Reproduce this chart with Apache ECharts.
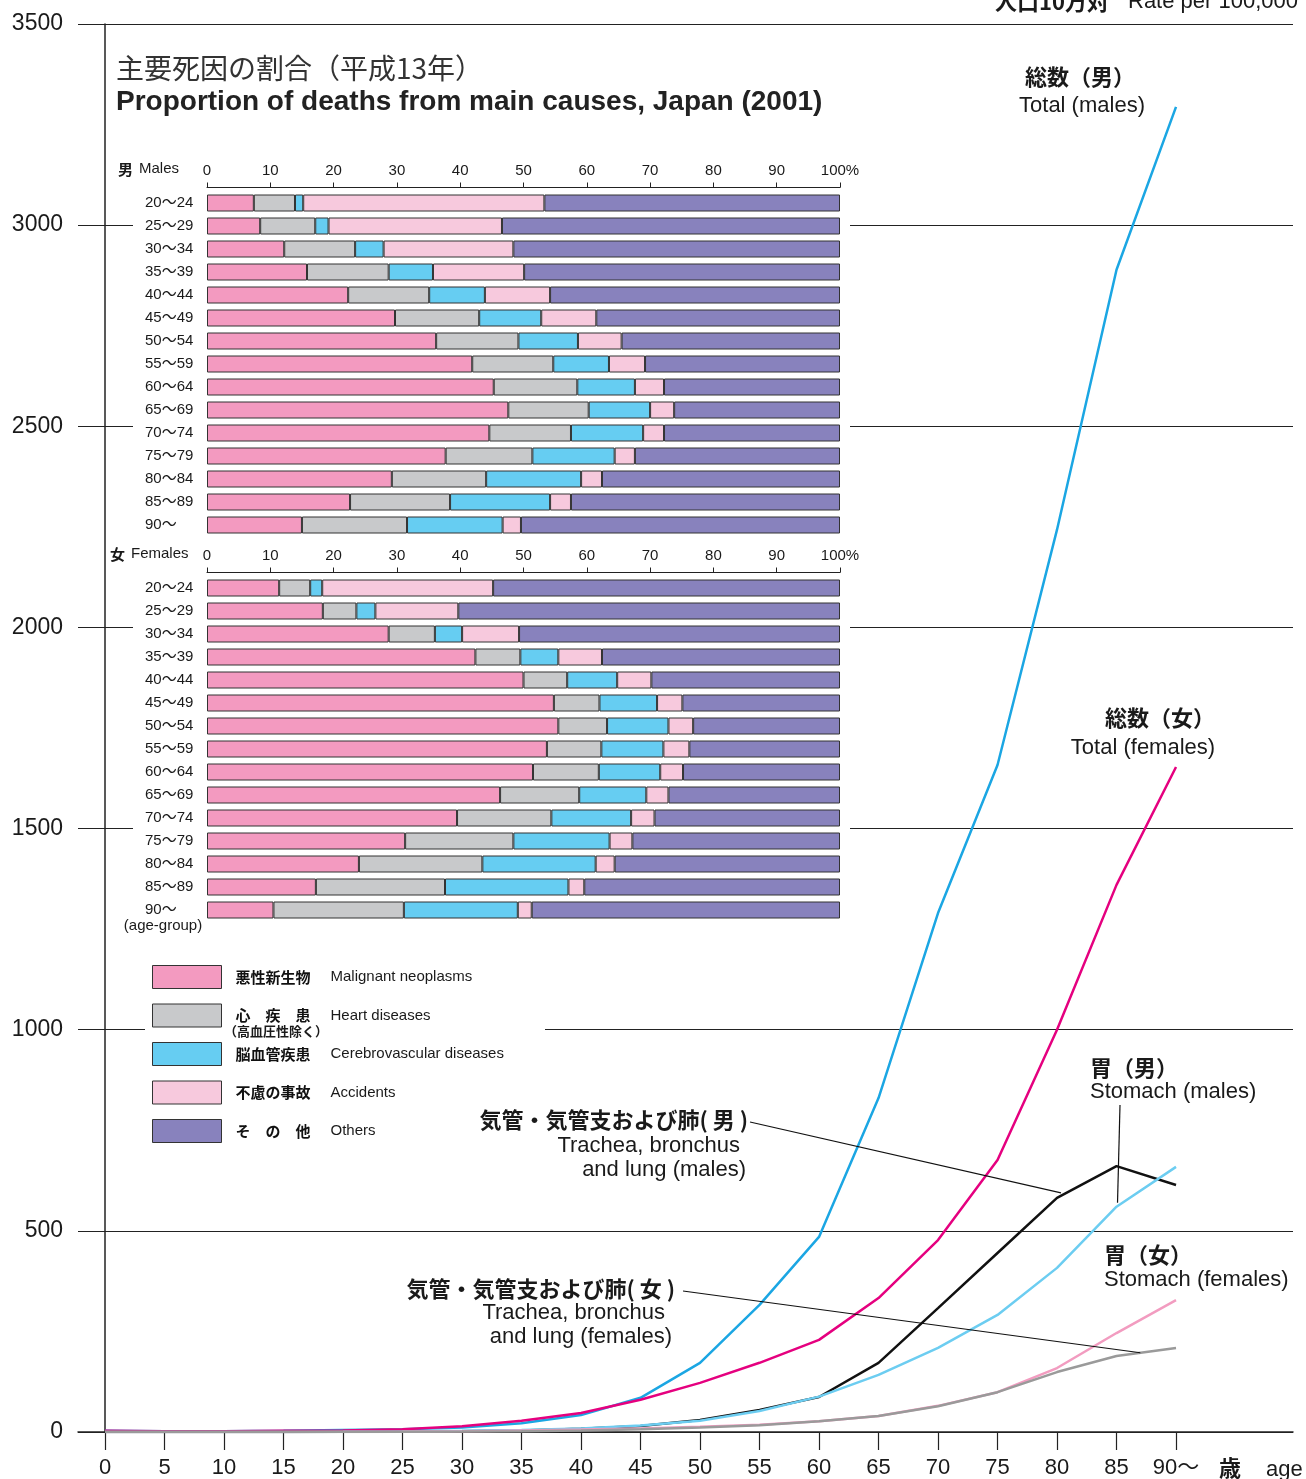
<!DOCTYPE html>
<html><head><meta charset="utf-8">
<script src="https://cdn.jsdelivr.net/npm/echarts@6/dist/echarts.min.js"></script>
<style>html,body{margin:0;padding:0;background:#fff}#c{width:1306px;height:1479px}</style>
</head><body><div id="c"></div>
<script>
// ---------- DATA ----------
const ages = [0,5,10,15,20,25,30,35,40,45,50,55,60,65,70,75,80,85,90];
const totalMales     = [3,2,2,3,5,7,11,22,42,85,172,316,485,830,1290,1658,2243,2889,3294];
const totalFemales   = [3,2,2,3,4,7,14,28,47,80,122,172,229,333,477,676,1000,1360,1653];
const lungMales      = [0,0,0,0,0.5,1,2,4,8,15,30,55,87,172,308,445,582,661,614];
const stomachMales   = [0,0,0,0,0.5,1.5,3,5,9,16,28,52,88,142,209,291,408,560,659];
const stomachFemales = [0,0,0,0,0.5,1,2,4,6,9,13,18,27,40,65,99,159,246,328];
const lungFemales    = [0,0,0,0,0.3,0.5,1,2,4,7,11,17,27,40,64,99,149,189,209];

const ageGroups = ['20～24','25～29','30～34','35～39','40～44','45～49','50～54','55～59','60～64','65～69','70～74','75～79','80～84','85～89','90～'];
const causeNames = ['Malignant neoplasms','Heart diseases','Cerebrovascular diseases','Accidents','Others'];
const causeNamesJp = ['悪性新生物','心　疾　患','脳血管疾患','不慮の事故','そ　の　他'];

const malesMalignant   = [7.4,8.4,12.2,15.8,22.3,29.7,36.2,41.9,45.3,47.6,44.6,37.7,29.2,22.6,15.0];
const malesHeart       = [6.5,8.7,11.2,12.9,12.8,13.3,13.0,12.8,13.2,12.7,12.9,13.7,14.9,15.8,16.6];
const malesCerebro     = [1.3,2.1,4.5,7.0,8.8,9.8,9.4,8.8,9.1,9.7,11.4,13.0,15.0,15.8,15.1];
const malesAccidents   = [38.1,27.4,20.5,14.4,10.3,8.7,6.9,5.7,4.6,3.8,3.3,3.2,3.3,3.3,2.9];
const malesOthers      = [46.7,53.4,51.6,49.9,45.8,38.5,34.5,30.8,27.8,26.2,27.8,32.4,37.6,42.5,50.4];

const femalesMalignant = [11.4,18.3,28.7,42.4,50.0,54.8,55.5,53.7,51.5,46.3,39.5,31.3,24.0,17.2,10.5];
const femalesHeart     = [4.9,5.3,7.3,7.1,6.9,7.2,7.7,8.6,10.4,12.5,14.9,17.1,19.5,20.4,20.6];
const femalesCerebro   = [1.9,3.0,4.3,6.0,7.9,9.1,9.7,9.8,9.7,10.6,12.6,15.2,17.9,19.5,18.0];
const femalesAccidents = [27.0,13.1,9.0,6.9,5.4,4.0,3.9,4.1,3.6,3.5,3.7,3.6,3.0,2.5,2.2];
const femalesOthers    = [54.8,60.3,50.7,37.6,29.8,24.9,23.2,23.8,24.8,27.1,29.3,32.8,35.6,40.4,48.7];

// ---------- STYLE ----------
const FONT = '"Liberation Sans", Arial, "Noto Sans CJK JP", sans-serif';
const JP = '"Noto Sans CJK JP", "Liberation Sans", sans-serif';
const causeColors = ['#f39ac0','#c8c9cb','#66cdf2','#f7c9dd','#8882bd'];
const TXT = '#1a1a1a';

const chart = echarts.init(document.getElementById('c'), null, {renderer:'canvas'});

const malesSets = [malesMalignant, malesHeart, malesCerebro, malesAccidents, malesOthers];
const femalesSets = [femalesMalignant, femalesHeart, femalesCerebro, femalesAccidents, femalesOthers];

function barSeries(sets, axisIdx, stack){
  return sets.map((d,i)=>({
    type:'bar', name: causeNames[i], stack: stack,
    xAxisIndex: axisIdx, yAxisIndex: axisIdx,
    data: d, barWidth: 17, z: 4,
    itemStyle:{color: causeColors[i], borderColor:'#333', borderWidth:1},
    emphasis:{disabled:true}
  }));
}
function lineSeries(name, d, color, w){
  return {type:'line', name, xAxisIndex:0, yAxisIndex:0, symbol:'none', z:3,
    data: ages.map((a,i)=>[a, d[i]]), lineStyle:{color, width:w}, itemStyle:{color},
    emphasis:{disabled:true}};
}
function pctAxis(grid){
  return {type:'value', gridIndex:grid, min:0, max:100, interval:10, position:'top', offset:4, z:5,
    axisLine:{show:true, lineStyle:{color:'#222', width:1}},
    axisTick:{show:true, length:5, lineStyle:{color:'#222', width:1}},
    axisLabel:{fontFamily:FONT, fontSize:15, color:TXT, margin:9, formatter:v=> v===100?'100%':String(v)},
    splitLine:{show:false}};
}
function catAxis(grid){
  return {type:'category', gridIndex:grid, data:ageGroups, inverse:true, z:5,
    axisLine:{show:false}, axisTick:{show:false},
    axisLabel:{fontFamily:FONT, fontSize:15, color:TXT, align:'left', margin:62}};
}

const option = {
  animation:false,
  backgroundColor:'#fff',
  grid:[
    {left:78, right:13, top:24, bottom:47, outerBoundsMode:'none', containLabel:false},
    {left:207, width:633, top:191.5, height:345, outerBoundsMode:'none', containLabel:false},
    {left:207, width:633, top:576.5, height:345, outerBoundsMode:'none', containLabel:false}
  ],
  xAxis:[
    {type:'value', gridIndex:0, min:-2.269, max:99.83,
     axisLine:{show:true, onZero:false, lineStyle:{color:'#222', width:1.5}},
     axisTick:{show:true, customValues:ages, length:18, lineStyle:{color:'#222', width:1.2}},
     axisLabel:{customValues:ages, fontFamily:FONT, fontSize:22, color:TXT, margin:25,
       formatter:v=> v===90?'90～':String(v)},
     splitLine:{show:false}},
    pctAxis(1), pctAxis(2)
  ],
  yAxis:[
    {type:'value', gridIndex:0, min:0, max:3500, interval:500,
     axisLine:{show:true, onZero:true, lineStyle:{color:'#222', width:1.5}},
     axisTick:{show:false},
     axisLabel:{fontFamily:FONT, fontSize:23, color:TXT, margin:15, formatter:v=>String(v)},
     splitLine:{show:true, lineStyle:{color:'#222', width:1.2}}},
    catAxis(1), catAxis(2)
  ],
  legend:{
    data: causeNames, orient:'vertical', left:152, top:965, padding:0,
    itemWidth:69, itemHeight:23, itemGap:14.5, icon:'rect', selectedMode:false,
    itemStyle:{borderColor:'#333', borderWidth:1},
    formatter: name => '{jp|'+causeNamesJp[causeNames.indexOf(name)]+'}{en|'+name+'}',
    textStyle:{rich:{
      jp:{fontFamily:JP, fontWeight:'bold', fontSize:15, lineHeight:20, color:'#111', width:95, padding:[0,0,0,9]},
      en:{fontFamily:FONT, fontSize:15, lineHeight:20, color:TXT}
    }}
  },
  series:[
    ...barSeries(malesSets,1,'m'),
    ...barSeries(femalesSets,2,'f'),
    lineSeries('Total (males)', totalMales, '#1ba6e3', 2.5),
    lineSeries('Total (females)', totalFemales, '#e5007f', 2.5),
    lineSeries('Trachea, bronchus and lung (males)', lungMales, '#111111', 2.5),
    lineSeries('Stomach (males)', stomachMales, '#6ccdf1', 2.5),
    lineSeries('Stomach (females)', stomachFemales, '#f29cc0', 2.5),
    lineSeries('Trachea, bronchus and lung (females)', lungFemales, '#9a9a9a', 2.5)
  ]
};
chart.setOption(option);

// ---------- GRAPHICS (text & leader lines) ----------
function t(x,y,text,opt){
  opt = opt||{};
  return {type:'text', x, y, z:10, silent:true, style:{
    text, fill: opt.fill||TXT, fontFamily: opt.jp?JP:FONT,
    fontSize: opt.size||22, fontWeight: opt.bold?'bold':'normal',
    align: opt.align||'left', verticalAlign:'middle'}};
}
const px = (x,y)=>chart.convertToPixel({xAxisIndex:0,yAxisIndex:0},[x,y]);
const pLungM = px(80, lungMales[16]);
const pStoM = px(85, stomachMales[17]);
const pLungF = px(87, lungFemales[17] + 0.4*(lungFemales[18]-lungFemales[17]));

const els = [
  {type:'rect', z:1, silent:true, shape:{x:133,y:140,width:717,height:800}, style:{fill:'#fff'}},
  {type:'rect', z:1, silent:true, shape:{x:145,y:950,width:400,height:200}, style:{fill:'#fff'}},
  t(995,2,'人口10万対',{jp:true,bold:true,size:22}),
  t(1128,2,'Rate per 100,000',{size:22}),
  t(116,68,'主要死因の割合（平成13年）',{jp:true,size:28,fill:'#333'}),
  t(116,102,'Proportion of deaths from main causes, Japan (2001)',{bold:true,size:28,fill:'#222'}),
  t(118,169,'男',{jp:true,bold:true,size:15}),
  t(139,169,'Males',{size:15}),
  t(110,554,'女',{jp:true,bold:true,size:15}),
  t(131,554,'Females',{size:15}),
  t(163,926,'(age-group)',{size:15,align:'center'}),
  t(276,1031,'（高血圧性除く）',{jp:true,bold:true,size:13,align:'center'}),
  t(1080,77,'総数（男）',{jp:true,bold:true,size:22,align:'center'}),
  t(1082,106,'Total (males)',{size:22,align:'center'}),
  t(1160,718,'総数（女）',{jp:true,bold:true,size:22,align:'center'}),
  t(1143,748,'Total (females)',{size:22,align:'center'}),
  t(1090,1068,'胃（男）',{jp:true,bold:true,size:22}),
  t(1090,1092,'Stomach (males)',{size:22}),
  t(1104,1255,'胃（女）',{jp:true,bold:true,size:22}),
  t(1104,1280,'Stomach (females)',{size:22}),
  t(748,1120,'気管・気管支および肺( 男 )',{jp:true,bold:true,size:22,align:'right'}),
  t(740,1146,'Trachea, bronchus',{size:22,align:'right'}),
  t(746,1170,'and lung (males)',{size:22,align:'right'}),
  t(675,1289,'気管・気管支および肺( 女 )',{jp:true,bold:true,size:22,align:'right'}),
  t(665,1313,'Trachea, bronchus',{size:22,align:'right'}),
  t(672,1337,'and lung (females)',{size:22,align:'right'}),
  t(1230,1468,'歳',{jp:true,bold:true,size:22,align:'center'}),
  t(1266,1470,'age',{size:22}),
  {type:'line', z:10, silent:true, shape:{x1:750,y1:1122,x2:pLungM[0]+4,y2:pLungM[1]-5}, style:{stroke:'#111',lineWidth:1.2}},
  {type:'line', z:10, silent:true, shape:{x1:1120,y1:1105,x2:pStoM[0]+1,y2:pStoM[1]-4}, style:{stroke:'#111',lineWidth:1.2}},
  {type:'line', z:10, silent:true, shape:{x1:683,y1:1291,x2:pLungF[0],y2:pLungF[1]}, style:{stroke:'#111',lineWidth:1.2}}
];
chart.setOption({graphic:{elements:els}});
</script></body></html>
